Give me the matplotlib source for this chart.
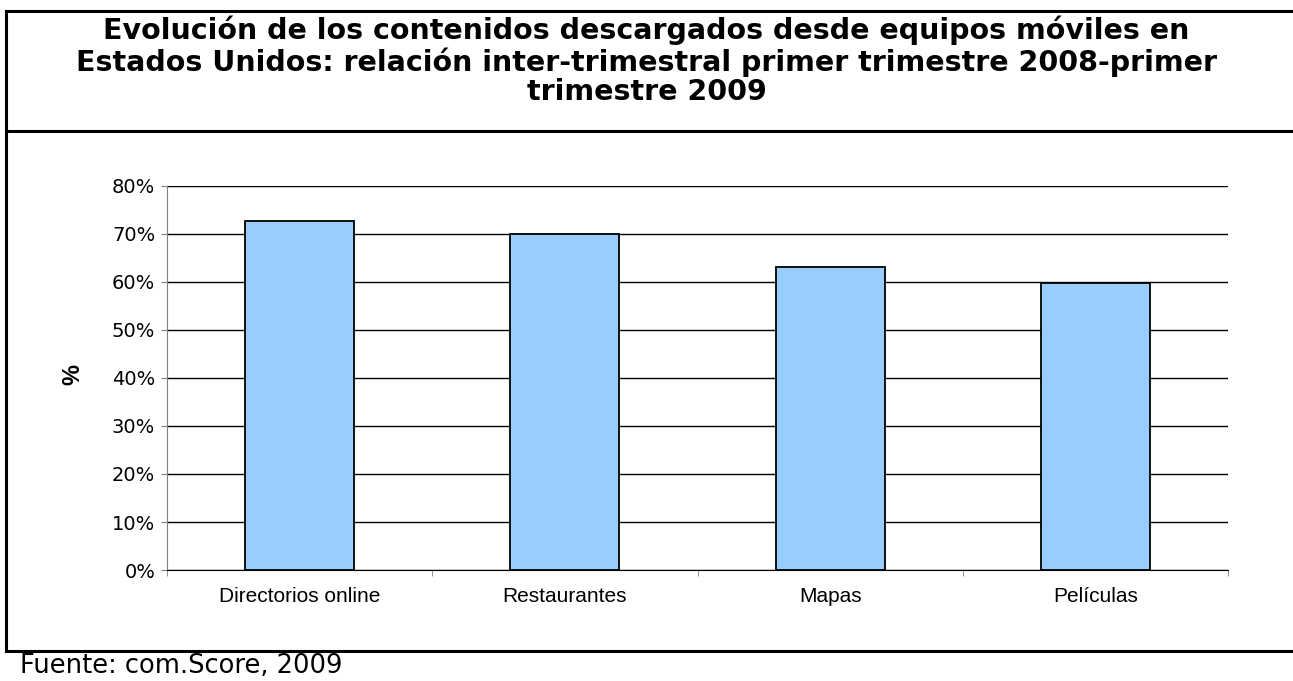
import matplotlib.pyplot as plt
from matplotlib.lines import Line2D
from matplotlib.ticker import MultipleLocator, FuncFormatter

plt.rcParams['font.family'] = ['Liberation Sans', 'DejaVu Sans']

# datos
categorias = ['Directorios online', 'Restaurantes', 'Mapas', 'Películas']
valores = [72.8, 70.0, 63.2, 59.8]

titulo = ('Evolución de los contenidos descargados desde equipos móviles en\n'
          'Estados Unidos: relación inter-trimestral primer trimestre 2008-primer\n'
          'trimestre 2009')
fuente = 'Fuente: com.Score, 2009'

W, H = 1293, 681
fig = plt.figure(figsize=(W / 100, H / 100), dpi=100)
ax = fig.add_axes([167 / W, 1 - 570 / H, (1228 - 167) / W, (570 - 186) / H])

x = range(len(categorias))
ax.bar(x, valores, width=0.41, color='#99ccff', edgecolor='black', linewidth=1.3, zorder=3)

ax.set_ylim(0, 80)
ax.set_xlim(-0.5, len(categorias) - 0.5)
ax.yaxis.set_major_locator(MultipleLocator(10))
ax.yaxis.set_major_formatter(FuncFormatter(lambda v, p: f'{v:.0f}%'))
ax.yaxis.grid(True, color='black', linewidth=1.0, zorder=0)

ax.set_xticks(x)
ax.set_xticklabels(categorias, fontsize=15)
ax.set_xticks([i - 0.5 for i in range(len(categorias) + 1)], minor=True)
ax.tick_params(axis='x', which='major', length=0, pad=12)
ax.tick_params(axis='x', which='minor', length=4, color='#808080', direction='out')
ax.tick_params(axis='y', length=4.5, color='#808080', pad=4)
for t in ax.get_yticklabels():
    t.set_fontfamily('DejaVu Sans')
    t.set_fontsize(14)

for lado in ['top', 'right']:
    ax.spines[lado].set_visible(False)
ax.spines['left'].set_color('#808080')
ax.spines['bottom'].set_color('black')

# etiqueta del eje y
fig.text(73 / W, 1 - 374 / H, '%', rotation=90, ha='center', va='center',
         fontsize=17, fontweight='bold')

# titulo y fuente
fig.text(0.5, 1 - 61 / H, titulo, ha='center', va='center',
         fontsize=20.5, fontweight='bold', family='DejaVu Sans', linespacing=1.08)
fig.text(20 / W, 1 - 666 / H, fuente, ha='left', va='center', fontsize=18.5,
         family='DejaVu Sans')

# marco del cuadro
for (x0, y0, x1, y1) in [(6, 11, 6, 651), (6, 11, W, 11), (6, 131, W, 131), (6, 651, W, 651)]:
    fig.add_artist(Line2D([x0 / W, x1 / W], [1 - y0 / H, 1 - y1 / H],
                          color='black', linewidth=2.2, transform=fig.transFigure))

fig.savefig('out.png', dpi=100)
